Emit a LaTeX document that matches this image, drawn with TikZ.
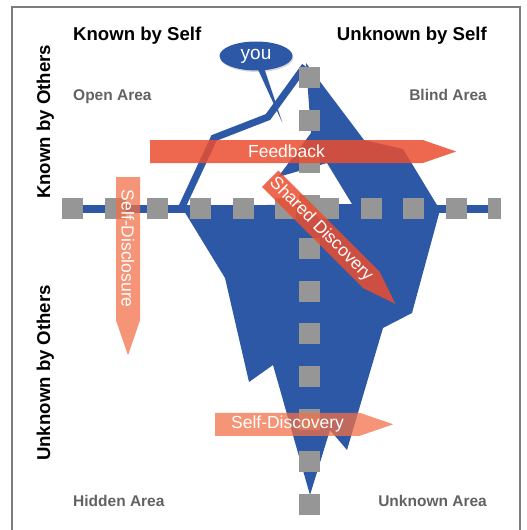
\documentclass[tikz,border=0pt]{standalone}
\usepackage{fontspec}
\setmainfont{Liberation Sans}
\usetikzlibrary{shapes.arrows,shapes.callouts,shadows}
\definecolor{icebergblue}{RGB}{45,88,166}
\definecolor{squaregray}{RGB}{150,150,150}
\definecolor{areagray}{RGB}{98,98,98}
\definecolor{framegray}{RGB}{125,125,125}
\definecolor{feedred}{RGB}{234,78,48}
\definecolor{discsalmon}{RGB}{242,112,72}

\begin{document}
\begin{tikzpicture}[
  x=1pt, y=-1pt,
  every node/.style={font=\fontsize{15.5}{16}\selectfont},
  headlabel/.style={inner sep=0pt, font=\bfseries\fontsize{18.6}{19}\selectfont},
  arealabel/.style={inner sep=0pt, text=areagray, font=\bfseries\fontsize{15.5}{16}\selectfont},
  gridsquare/.style={fill=squaregray, minimum size=21pt, inner sep=0pt},
  flowarrow/.style={single arrow, single arrow head extend=0pt,
    single arrow tip angle=38, minimum width=23pt, inner sep=0pt,
    anchor=tail, text=white, text opacity=1,
    font=\fontsize{17.5}{18}\selectfont}
]

\useasboundingbox (0,0) rectangle (527,530);

% --- Keret ---
\draw[framegray, line width=1.5pt] (12,530) -- (12,7) -- (520,7) -- (520,530);

% --- Jéghegy ---
\fill[icebergblue] (306,63) -- (364,140) -- (403,149) -- (440,210)
  -- (412,313) -- (383,328) -- (347,450) -- (330,430) -- (310,495)
  -- (273,365) -- (249,382) -- (225,278) -- (181,206) -- (352,204)
  -- (327,163) -- (278,177) -- (311,133) -- cycle;
\draw[icebergblue, line width=7pt] (181,209) -- (214,138) -- (268,117) -- (305,66);

% --- Tengelyek ---
\draw[icebergblue, line width=8pt] (62,209) -- (495,209);
\foreach \k in {0,...,9}
  \node[gridsquare] (h\k) at ({72.5+42.67*\k},208.5) {};
\node[gridsquare, minimum width=13pt] (h10) at (494.5,208.5) {};
\foreach \k in {0,...,10}
  \node[gridsquare] (v\k) at (309,{77.5+42.7*\k}) {};

% --- Feliratok ---
\node[headlabel, anchor=base west] (knownself) at (73,40) {Known by Self};
\node[headlabel, anchor=base east] (unknownself) at (487,40) {Unknown by Self};
\node[headlabel, anchor=base west, rotate=90] (knownothers) at (50,199) {Known by Others};
\node[headlabel, anchor=base west, rotate=90] (unknownothers) at (50,461) {Unknown by Others};

\node[arealabel, anchor=base west] (openarea) at (73,100) {Open Area};
\node[arealabel, anchor=base east] (blindarea) at (487,100) {Blind Area};
\node[arealabel, anchor=base west] (hiddenarea) at (73,506) {Hidden Area};
\node[arealabel, anchor=base east] (unknownarea) at (487,506) {Unknown Area};

% --- Nyilak ---
\node[flowarrow, fill=feedred, fill opacity=.85, minimum height=306pt] (feedback) at (150,151.5) {Feedback};
\node[flowarrow, fill=feedred, fill opacity=.85, minimum height=177pt, rotate=-45] (shared) at (270,178.5) {Shared Discovery};
\node[flowarrow, fill=discsalmon, fill opacity=.75, minimum height=178pt, minimum width=24pt, rotate=-90] (disclosure) at (128,177) {Self-Disclosure};
\node[flowarrow, fill=discsalmon, fill opacity=.75, minimum height=178pt] (discovery) at (215,424.3) {Self-Discovery};

% --- Buborék ---
\node[ellipse callout, fill=icebergblue, text=white, minimum width=73pt,
  minimum height=29pt, inner sep=0pt, callout absolute pointer={(282,122)},
  callout pointer arc=10, drop shadow={opacity=.3, shadow xshift=1pt, shadow yshift=-1.5pt},
  font=\fontsize{19}{19}\selectfont] (you) at (256,56) {you};

\end{tikzpicture}
\end{document}
